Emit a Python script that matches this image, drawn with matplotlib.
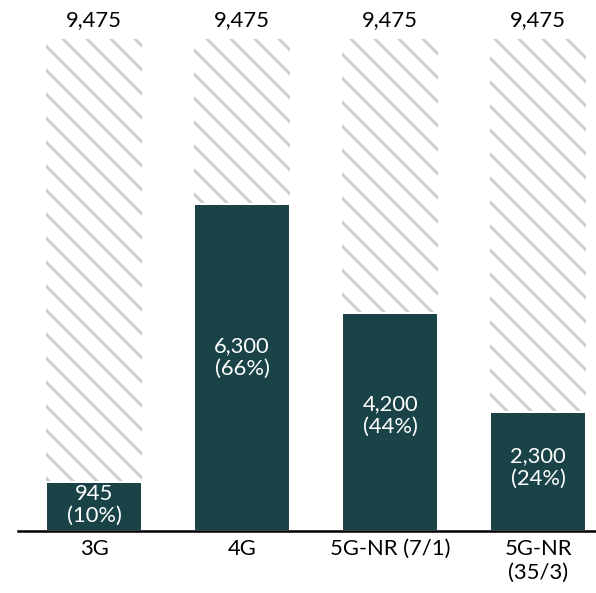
import numpy as np
import matplotlib
matplotlib.use('Agg')
import matplotlib.pyplot as plt

#-- data
categories = ['3G', '4G', '5G-NR (7/1)', '5G-NR\n(35/3)']
totals = [9475, 9475, 9475, 9475]
values = [945, 6300, 4200, 2300]

TEAL = '#1a4347'
HATCH_GRAY = '#cfcfcf'
FS = 22

plt.rcParams['font.family'] = ['Lato', 'DejaVu Sans']
plt.rcParams['hatch.linewidth'] = 3.0

#-------------------------------------------------------------------------------

#-- 72 dpi so one point is one pixel and the hatch is a bit denser
DPI = 72
fig = plt.figure(figsize=(596 / DPI, 593 / DPI), dpi=DPI)
ax = fig.add_axes([18 / 596, 62 / 593, 1 - 18 / 596, 492 / 593])

x = np.arange(len(categories))
width = 0.65

#-- hatched background bars (full capacity)
ax.bar(x, totals, width, facecolor='white', edgecolor=HATCH_GRAY,
       linewidth=0, hatch='\\')
#-- filled bars, white edge gives the small gap under the hatch
ax.bar(x, values, width, color=TEAL, edgecolor='white', linewidth=2)

for xi, tot, val in zip(x, totals, values):
    ax.annotate('{:,}'.format(tot), (xi, tot), xytext=(0, 13),
                textcoords='offset points', ha='center', va='baseline',
                fontsize=FS, color='black')
    pct = 100.0 * val / tot
    ax.text(xi, val * 0.53, '{:,}\n({:.0f}%)'.format(val, pct),
            ha='center', va='center', fontsize=FS, color='white',
            linespacing=1.15)

ax.set_xlim(-0.514, 3.39)
ax.set_ylim(0, 9475)
ax.set_xticks(x)
ax.set_xticklabels(categories, fontsize=FS, linespacing=1.25)
ax.tick_params(axis='x', length=0, pad=8)
ax.set_yticks([])

for side in ['top', 'right', 'left']:
    ax.spines[side].set_visible(False)
ax.spines['bottom'].set_linewidth(2.5)
ax.spines['bottom'].set_color('black')
ax.set_facecolor('none')

fig.savefig('out.png', dpi=DPI)
